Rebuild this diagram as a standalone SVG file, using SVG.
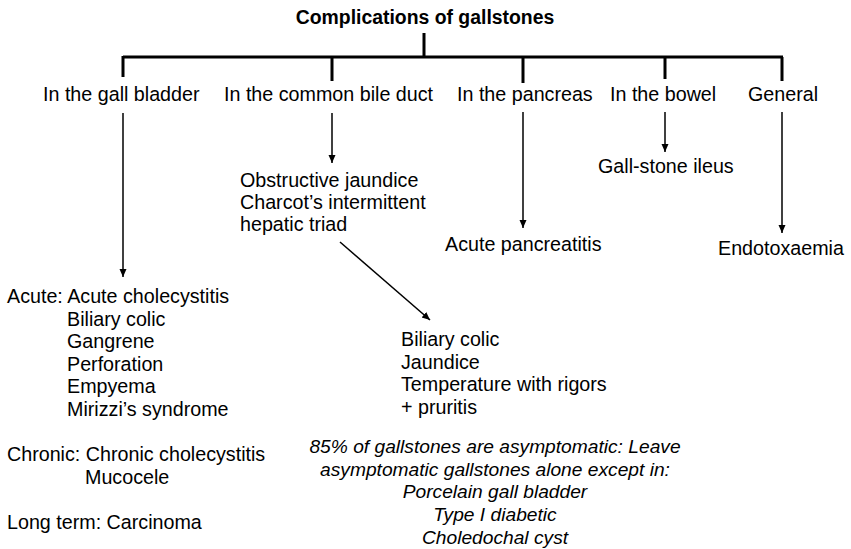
<svg xmlns="http://www.w3.org/2000/svg" width="851" height="549" viewBox="0 0 851 549">
<defs>
<style>
text{font-family:"Liberation Sans",Arial,sans-serif;font-size:19.7px;fill:#000}
.title{font-weight:bold;font-size:19.4px;text-anchor:middle}
.it{font-style:italic;font-size:19.2px;text-anchor:middle}
.thick{stroke:#000;stroke-width:3;fill:none}
.thin{stroke:#000;stroke-width:1.5;fill:none;marker-end:url(#ah)}
</style>
<marker id="ah" markerUnits="userSpaceOnUse" markerWidth="9" markerHeight="8" refX="8" refY="3.5" orient="auto">
<path d="M0,0 L8,3.5 L0,7 z" fill="#000"/>
</marker>
</defs>
<rect width="851" height="549" fill="#fff"/>
<g id="connectors">
<path class="thick" d="M424,33 V57 M123,57 H783 M123,56 V77 M332,57 V81 M523,57 V83 M665,57 V79 M782,57 V81"/>
<line class="thin" x1="123" y1="113" x2="123" y2="277"/>
<line class="thin" x1="332" y1="113" x2="332" y2="163"/>
<line class="thin" x1="523" y1="112" x2="523" y2="228"/>
<line class="thin" x1="665" y1="112" x2="665" y2="152"/>
<line class="thin" x1="782" y1="112" x2="782" y2="233"/>
<line class="thin" x1="340" y1="242" x2="430" y2="320"/>
</g>
<g id="title"><text class="title" x="425" y="24">Complications of gallstones</text></g>
<g id="gallbladder"><text x="43" y="101">In the gall bladder</text></g>
<g id="cbd"><text x="224" y="101">In the common bile duct</text></g>
<g id="pancreas"><text x="457" y="101">In the pancreas</text></g>
<g id="bowel"><text x="610" y="101">In the bowel</text></g>
<g id="general"><text x="748" y="101">General</text></g>
<g id="obstructive"><text x="240" y="187">Obstructive jaundice</text><text x="240" y="209">Charcot’s intermittent</text><text x="240" y="231">hepatic triad</text></g>
<g id="ileus"><text x="598" y="173">Gall-stone ileus</text></g>
<g id="pancreatitis"><text x="445" y="251">Acute pancreatitis</text></g>
<g id="endotoxaemia"><text x="718" y="255">Endotoxaemia</text></g>
<g id="gb-list">
<text x="7" y="303">Acute: Acute cholecystitis</text>
<text x="67" y="325.5">Biliary colic</text>
<text x="67" y="348">Gangrene</text>
<text x="67" y="370.5">Perforation</text>
<text x="67" y="393">Empyema</text>
<text x="67" y="415.5">Mirizzi’s syndrome</text>
<text x="7" y="461">Chronic: Chronic cholecystitis</text>
<text x="85" y="483.5">Mucocele</text>
<text x="7" y="529">Long term: Carcinoma</text>
</g>
<g id="triad">
<text x="401" y="346">Biliary colic</text>
<text x="401" y="368.5">Jaundice</text>
<text x="401" y="391">Temperature with rigors</text>
<text x="401" y="413.5">+ pruritis</text>
</g>
<g id="note">
<text class="it" x="495" y="453">85% of gallstones are asymptomatic: Leave</text>
<text class="it" x="495" y="475.5">asymptomatic gallstones alone except in:</text>
<text class="it" x="495" y="498">Porcelain gall bladder</text>
<text class="it" x="495" y="520.5">Type I diabetic</text>
<text class="it" x="495" y="543.5">Choledochal cyst</text>
</g>
</svg>
